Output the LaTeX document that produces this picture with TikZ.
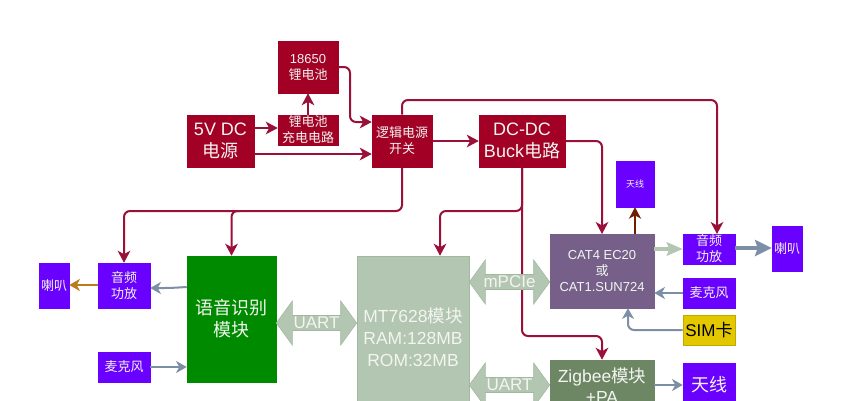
\documentclass[tikz,border=0pt]{standalone}
\usepackage{fontspec}
\setmainfont{Liberation Sans}
\newfontfamily\cjk{Noto Sans CJK SC}
\usetikzlibrary{arrows.meta,calc}
\definecolor{cred}{HTML}{A20025}
\definecolor{credd}{HTML}{9A1038}
\definecolor{cpur}{HTML}{6A00FF}
\definecolor{cgreen}{HTML}{008A00}
\definecolor{csage}{HTML}{B3C6B1}
\definecolor{csaged}{HTML}{A3B8A1}
\definecolor{ccat}{HTML}{76608A}
\definecolor{czig}{HTML}{6D8764}
\definecolor{csim}{HTML}{E3C800}
\definecolor{cblue}{HTML}{7C8FA6}
\definecolor{corange}{HTML}{BD7A1A}
\definecolor{cbrown}{HTML}{6D1F00}
\definecolor{ctxt}{HTML}{F2F5F0}
\newcommand{\fpx}[2]{\fontsize{\dimexpr#1pt*3/4\relax}{\dimexpr#2pt*3/4\relax}\selectfont}
\newcommand{\zh}[1]{{\cjk #1}}
\newcommand{\blk}[7][]{%
  \pgfmathsetmacro{\cxx}{(#3+#5)/2}\pgfmathsetmacro{\cyy}{(#4+#6)/2}%
  \pgfmathsetmacro{\wdd}{(#5-#3)*0.75}\pgfmathsetmacro{\htt}{(#6-#4)*0.75}%
  \node[blockbox,minimum width=\wdd pt,minimum height=\htt pt,#1] (#2) at (\cxx,\cyy) {#7};}
\newcommand{\dbl}[5]{% name, left node, right node, y, label
  \coordinate (#1L) at (#2.east |- 0,#4);
  \coordinate (#1R) at (#3.west |- 0,#4);
  \filldraw[fill=csage,draw=csaged,line width=0.4pt]
    (#1L) -- ([shift={(16,-22)}]#1L) -- ([shift={(16,-7.5)}]#1L) -- ([shift={(-16,-7.5)}]#1R)
    -- ([shift={(-16,-22)}]#1R) -- (#1R) -- ([shift={(-16,22)}]#1R) -- ([shift={(-16,7.5)}]#1R)
    -- ([shift={(16,7.5)}]#1L) -- ([shift={(16,22)}]#1L) -- cycle;
  \node[text=ctxt,inner sep=0pt,font=\fpx{17}{20}] (#1) at ($(#1L)!0.5!(#1R)$) {#5};}
\tikzset{
  blockbox/.style={draw,line width=0.4pt,inner sep=0pt,align=center,text=ctxt},
  redbox/.style={fill=cred,draw=cred},
  purbox/.style={fill=cpur,draw=cpur},
  redline/.style={draw=credd,line width=1.5pt,rounded corners=4.5pt,-{Stealth[length=9pt,width=9.5pt,inset=2.6pt]}},
  redplain/.style={draw=credd,line width=1.5pt,rounded corners=4.5pt},
  blueline/.style={draw=cblue,line width=1.5pt,rounded corners=4.5pt,-{Stealth[length=8pt,width=9pt,inset=2.4pt]}},
  sagearrow/.style={draw=csage,line width=2.8pt,-{Stealth[length=12pt,width=10pt,inset=2pt]}},
  bluethick/.style={draw=cblue,line width=3pt,-{Stealth[length=12.5pt,width=12pt,inset=2pt]}},
}
\begin{document}
\begin{tikzpicture}[x=0.75pt,y=-0.75pt]
\useasboundingbox (0,0) rectangle (845,400);
\fill[white] (0,0) rectangle (845,400);
\clip (0,0) rectangle (845,400);
\blk[redbox,font=\fpx{13}{16}]{bat}{278}{41}{338}{93}{18650\\\zh{锂电池}}
\blk[redbox,font=\fpx{18}{22}]{dc}{187}{115}{254}{167}{5V DC\\\zh{电源}}
\blk[redbox,font=\fpx{13}{16}]{chg}{278}{115}{338}{145}{\zh{锂电池}\\\zh{充电电路}}
\blk[redbox,font=\fpx{13}{16}]{sw}{372}{115}{432}{167}{\zh{逻辑电源}\\\zh{开关}}
\blk[redbox,font=\fpx{18}{22}]{buck}{479}{115}{565}{167}{DC-DC\\Buck\zh{电路}}
\blk[purbox,font=\fpx{9}{11}]{anta}{616}{161}{654}{207}{\zh{天线}}
\blk[fill=ccat,draw=ccat,font=\fpx{13}{16}]{cat}{550}{234}{654}{308}{CAT4 EC20\\\zh{或}\\CAT1.SUN724}
\blk[purbox,font=\fpx{13}{16}]{ampr}{683}{234}{735}{264}{\zh{音频}\\\zh{功放}}
\blk[purbox,font=\fpx{13}{16}]{spkr}{772}{226}{802}{271}{\zh{喇叭}}
\blk[purbox,font=\fpx{13}{16}]{micr}{683}{278}{735}{308}{\zh{麦克风}}
\blk[fill=csim,draw=csim!85!black,font=\fpx{17}{20},text=black]{sim}{683}{315}{735}{345}{SIM\zh{卡}}
\blk[fill=czig,draw=czig,font=\fpx{17.5}{21}]{zig}{550}{360}{654}{412}{Zigbee\zh{模块}\\+PA}
\blk[purbox,font=\fpx{18}{22}]{antb}{683}{363}{735}{407}{\zh{天线}}
\blk[fill=csage,draw=csaged,font=\fpx{17.5}{22}]{mt}{357}{256}{469}{418}{MT7628\zh{模块}\\RAM:128MB\\ROM:32MB}
\blk[fill=cgreen,draw=cgreen,font=\fpx{18}{22}]{asr}{187}{256}{276}{382}{\zh{语音识别}\\\zh{模块}}
\blk[purbox,font=\fpx{13}{16}]{ampl}{98}{263}{150}{308}{\zh{音频}\\\zh{功放}}
\blk[purbox,font=\fpx{13}{16}]{spkl}{39}{263}{69}{308}{\zh{喇叭}}
\blk[purbox,font=\fpx{13}{16}]{micl}{98}{352}{150}{382}{\zh{麦克风}}
% power connectors
\draw[redline] (dc.east |- 0,128) -- (chg.west |- 0,128);
\draw[redline] (chg.north) -- (bat.south);
\draw[redline] (bat.east |- 0,67) -- (350,67) -- (350,122) -- (sw.west |- 0,122);
\draw[redline] (dc.east |- 0,154) -- (sw.west |- 0,154);
\draw[redline] (sw.east |- 0,141) -- (buck.west |- 0,141);
\draw[redline] (sw.north) -- (sw.north |- 0,100) -- (717,100) -- (717,234);
\draw[redline] (buck.east |- 0,141) -- (602,141) -- (602,234);
\draw[redline] (buck.south) -- (buck.south |- 0,211) -- (440,211) -- (mt.north -| 440,0);
\draw[redline] (buck.south) -- (buck.south |- 0,336) -- (602,336) -- (zig.north -| 602,0);
\draw[redline] (sw.south) -- (sw.south |- 0,211) -- (ampl.north |- 0,211) -- (ampl.north);
\draw[redline] (240,211) -- (asr.north |- 0,211) -- (asr.north);
% signal connectors
\draw[draw=cbrown,line width=1.5pt,-{Stealth[length=8.5pt,width=9pt,inset=2.4pt]}] (cat.north -| anta.south) -- (anta.south);
\draw[blueline] (asr.west |- 0,287) -- (170,288) -- (ampl.east |- 0,288);
\draw[draw=corange,line width=1.5pt,-{Stealth[length=8pt,width=9pt,inset=2.4pt]}] (ampl.west |- 0,285) -- (spkl.east |- 0,285);
\draw[blueline] (micl.east) -- (asr.west |- micl.east);
\draw[blueline] (micr.west) -- (cat.east |- micr.west);
\draw[blueline] (sim.west) -- (628,330) -- (cat.south -| 628,0);
\draw[blueline] (zig.east |- 0,385) -- (antb.west |- 0,385);
\draw[sagearrow] (cat.east |- ampr.west) -- (ampr.west);
\draw[bluethick] (ampr.east |- 0,248) -- (spkr.west |- 0,248);
% interface arrows
\dbl{uarta}{asr}{mt}{323}{UART}
\dbl{pcie}{mt}{cat}{282}{mPCIe}
\dbl{uartb}{mt}{zig}{385}{UART}
\end{tikzpicture}
\end{document}
